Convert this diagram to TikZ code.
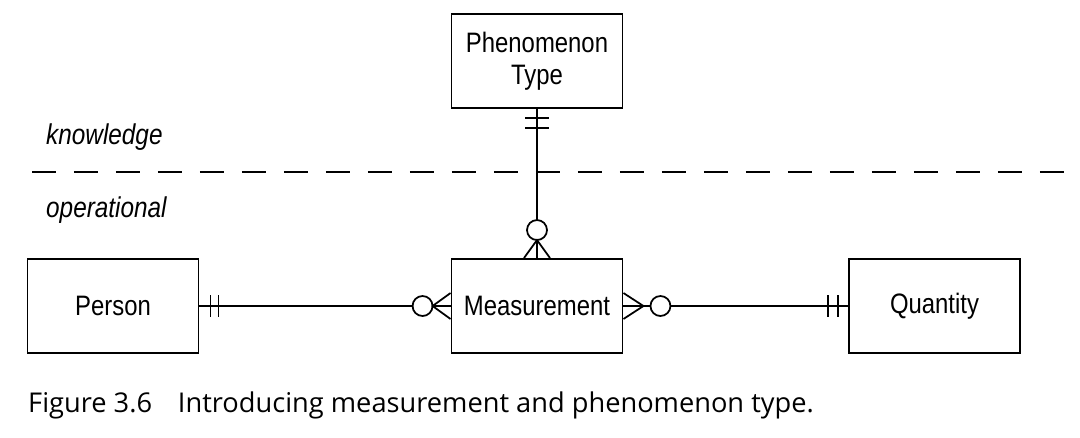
\documentclass[tikz,border=0pt]{standalone}
\usepackage{fontspec}
\usepackage{tikz}
\usetikzlibrary{positioning,calc}
\newfontfamily\narrowfont{Liberation Sans}[FakeStretch=0.85]
\newfontfamily\captionfont{Open Sans}

\begin{document}
\begin{tikzpicture}[x=0.02cm, y=-0.02cm,
  entity/.style={rectangle, draw, line width=1.1pt, minimum width=3.42cm, minimum height=1.88cm, align=center, font=\narrowfont\fontsize{16}{18.5}\selectfont},
  layer/.style={anchor=west, font=\narrowfont\itshape\fontsize{16.3}{19}\selectfont},
  link/.style={line width=1pt},
  tick/.style={line width=1pt}]

\useasboundingbox (0,0) rectangle (1080,437);

% ENTITIES

\node [entity] (phentype) at (537,61) {Phenomenon\\Type};
\node [entity] (measurement) at (537,306) {Measurement};
\node [entity] (person) at (113,306) {Person};
\node [entity] (quantity) at (934.5,306) {Quantity};

% LAYERS

\node [layer] (knowledge) at (40,137) {knowledge};
\node [layer] (operational) at (40,210) {operational};
\coordinate (splitleft) at (32,172);
\coordinate (splitright) at (1080,172);
\draw [line width=1.4pt, dash pattern=on 0.48cm off 0.36cm] (splitleft) -- (splitright);

% RELATIONSHIPS

\draw [link] (phentype.south) -- (measurement.north);
\draw [tick] ($(phentype.south)+(-12,9)$) -- ++(24,0);
\draw [tick] ($(phentype.south)+(-12,19)$) -- ++(24,0);
\draw [tick, fill=white] ($(measurement.north)+(0,-28)$) circle (0.2cm);
\draw [tick] ($(measurement.north)+(-13,0)$) -- ($(measurement.north)+(0,-18)$) -- ($(measurement.north)+(13,0)$);

\draw [link] (person.east) -- (measurement.west);
\draw [tick] ($(person.east)+(11,-11)$) -- ++(0,22);
\draw [tick] ($(person.east)+(19,-11)$) -- ++(0,22);
\draw [tick, fill=white] ($(measurement.west)+(-28,0)$) circle (0.2cm);
\draw [tick] ($(measurement.west)+(0,-13)$) -- ($(measurement.west)+(-18,0)$) -- ($(measurement.west)+(0,13)$);

\draw [link] (measurement.east) -- (quantity.west);
\draw [tick] ($(quantity.west)+(-20,-11)$) -- ++(0,22);
\draw [tick] ($(quantity.west)+(-10,-11)$) -- ++(0,22);
\draw [tick, fill=white] ($(measurement.east)+(37,0)$) circle (0.2cm);
\draw [tick] ($(measurement.east)+(0,-13)$) -- ($(measurement.east)+(20,0)$) -- ($(measurement.east)+(0,13)$);

% CAPTION

\node [anchor=west, font=\captionfont\fontsize{15.5}{18}\selectfont] (caption) at (22,405) {Figure 3.6\hspace{0.95em}Introducing measurement and phenomenon type.};

\end{tikzpicture}
\end{document}
